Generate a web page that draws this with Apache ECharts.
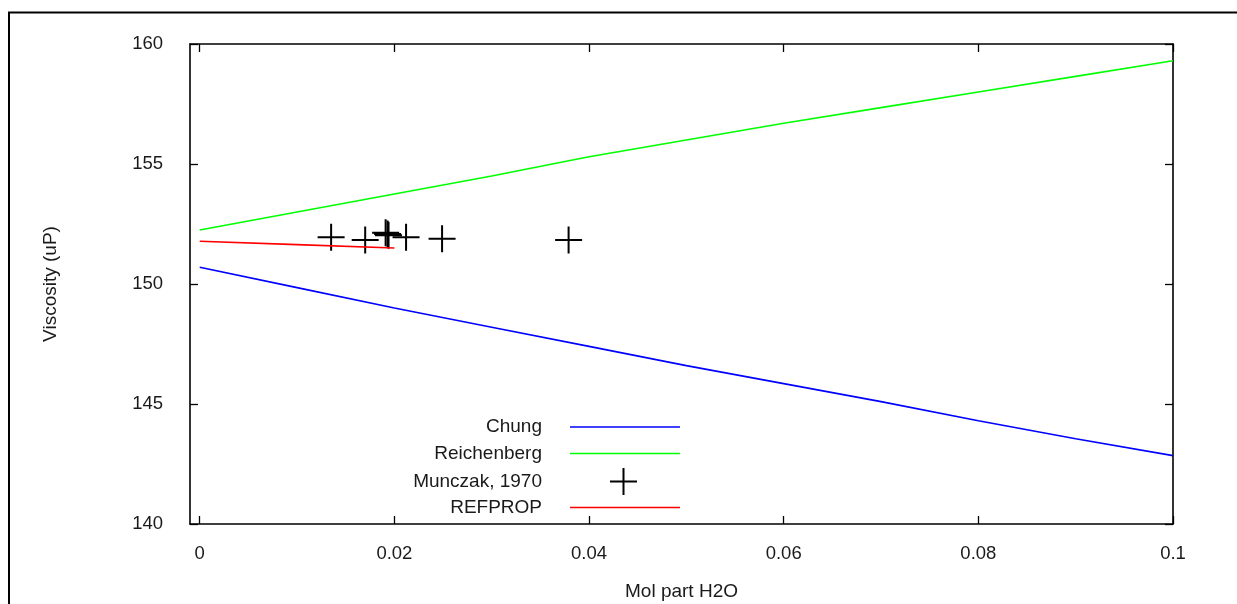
<!DOCTYPE html>
<html>
<head>
<meta charset="utf-8">
<script src="https://cdn.jsdelivr.net/npm/echarts@6/dist/echarts.min.js"></script>
<style>
html,body{margin:0;padding:0;background:#fff;}
#chart{width:1237px;height:604px;}
</style>
</head>
<body>
<div id="chart"></div>
<script>
// ---- data ----
const xTickValues = [0, 0.02, 0.04, 0.06, 0.08, 0.1];
const yTickValues = [140, 145, 150, 155, 160];

const chungX = [0, 0.01, 0.02, 0.03, 0.04, 0.05, 0.06, 0.07, 0.08, 0.09, 0.1];
const chungY = [150.7, 149.85, 149.0, 148.2, 147.4, 146.6, 145.85, 145.1, 144.3, 143.55, 142.85];

const reichX = [0, 0.01, 0.02, 0.03, 0.04, 0.05, 0.06, 0.07, 0.08, 0.09, 0.1];
const reichY = [152.25, 153.0, 153.75, 154.5, 155.3, 156.0, 156.7, 157.35, 158.0, 158.65, 159.3];

const munczakX = [0.0135, 0.0170, 0.0191, 0.0193, 0.0194, 0.0212, 0.0249, 0.0379];
const munczakY = [151.95, 151.83, 152.14, 152.08, 152.03, 151.95, 151.89, 151.83];

const refpropX = [0, 0.01, 0.02];
const refpropY = [151.78, 151.64, 151.5];

const seriesNames = ['Chung', 'Reichenberg', 'Munczak, 1970', 'REFPROP'];
const seriesColors = ['#0000ff', '#00ff00', '#000000', '#ff0000'];

// ---- build ----
const zip = (xs, ys) => xs.map((x, i) => [x, ys[i]]);
const FONT = 'Liberation Sans, Arial, sans-serif';
const CROSS = 'path://M0,-10L0,10M-10,0L10,0';
const textColor = '#1a1a1a';

const chart = echarts.init(document.getElementById('chart'), null, {renderer: 'canvas'});

const tickCommon = {show: true, inside: true, length: 8, lineStyle: {color: '#000', width: 1.3}};
const lineCommon = {show: true, onZero: false, lineStyle: {color: '#000', width: 1.6}};

function lineLegend(name, color, centerY) {
  return {
    data: [{name: name, icon: 'rect', itemStyle: {color: color}}],
    right: 1237 - 680,
    top: centerY - 9,
    align: 'right',
    itemWidth: 110,
    itemHeight: 1.6,
    selectedMode: false,
    padding: 0,
    textStyle: {fontFamily: FONT, fontSize: 19, color: textColor, padding: [0, 23, 0, 0]}
  };
}

const option = {
  backgroundColor: '#fff',
  animation: false,
  grid: {left: 190, right: 64, top: 44, bottom: 80, containLabel: false, outerBoundsMode: 'none'},
  graphic: [{
    type: 'rect',
    shape: {x: 9, y: 12.5, width: 1240, height: 600},
    style: {fill: 'none', stroke: '#000', lineWidth: 2},
    silent: true
  }],
  legend: [
    lineLegend(seriesNames[0], seriesColors[0], 426.5),
    lineLegend(seriesNames[1], seriesColors[1], 453),
    {
      data: [{name: seriesNames[2], icon: CROSS, itemStyle: {color: 'transparent', borderColor: '#000', borderWidth: 2, opacity: 1}}],
      right: 1237 - 638,
      top: 480.5 - 13.5,
      align: 'right',
      itemWidth: 27,
      itemHeight: 27,
      selectedMode: false,
      padding: 0,
      textStyle: {fontFamily: FONT, fontSize: 19, color: textColor, padding: [0, 63, 0, 0]}
    },
    lineLegend(seriesNames[3], seriesColors[3], 507)
  ],
  xAxis: [{
    type: 'value',
    position: 'bottom',
    min: -0.001,
    max: 0.1,
    name: 'Mol part H2O',
    nameLocation: 'middle',
    nameGap: 58,
    nameTextStyle: {fontFamily: FONT, fontSize: 19, color: textColor},
    axisLine: lineCommon,
    axisTick: Object.assign({customValues: xTickValues}, tickCommon),
    axisLabel: {customValues: xTickValues, margin: 20, fontFamily: FONT, fontSize: 18.5, color: textColor,
      formatter: v => String(+v.toFixed(4))},
    splitLine: {show: false}
  }, {
    type: 'value',
    position: 'top',
    min: -0.001,
    max: 0.1,
    axisLine: lineCommon,
    axisTick: Object.assign({customValues: xTickValues}, tickCommon),
    axisLabel: {show: false},
    splitLine: {show: false}
  }],
  yAxis: [{
    type: 'value',
    position: 'left',
    min: 140,
    max: 160,
    interval: 5,
    name: 'Viscosity (uP)',
    nameLocation: 'middle',
    nameGap: 130,
    nameTextStyle: {fontFamily: FONT, fontSize: 19, color: textColor},
    axisLine: lineCommon,
    axisTick: tickCommon,
    axisLabel: {margin: 27, padding: [7, 0, 0, 0], fontFamily: FONT, fontSize: 18.5, color: textColor},
    splitLine: {show: false}
  }, {
    type: 'value',
    position: 'right',
    min: 140,
    max: 160,
    interval: 5,
    axisLine: lineCommon,
    axisTick: tickCommon,
    axisLabel: {show: false},
    splitLine: {show: false}
  }],
  series: [
    {
      name: seriesNames[0], type: 'line', data: zip(chungX, chungY),
      showSymbol: false, symbol: 'none', color: seriesColors[0],
      lineStyle: {color: seriesColors[0], width: 1.6}
    },
    {
      name: seriesNames[1], type: 'line', data: zip(reichX, reichY),
      showSymbol: false, symbol: 'none', color: seriesColors[1],
      lineStyle: {color: seriesColors[1], width: 1.6}
    },
    {
      name: seriesNames[2], type: 'scatter', data: zip(munczakX, munczakY),
      symbol: CROSS, symbolSize: 27,
      itemStyle: {color: 'transparent', borderColor: '#000', borderWidth: 2, opacity: 1}
    },
    {
      name: seriesNames[3], type: 'line', data: zip(refpropX, refpropY),
      showSymbol: false, symbol: 'none', color: seriesColors[3],
      lineStyle: {color: seriesColors[3], width: 1.6}
    }
  ]
};
chart.setOption(option);
</script>
</body>
</html>
